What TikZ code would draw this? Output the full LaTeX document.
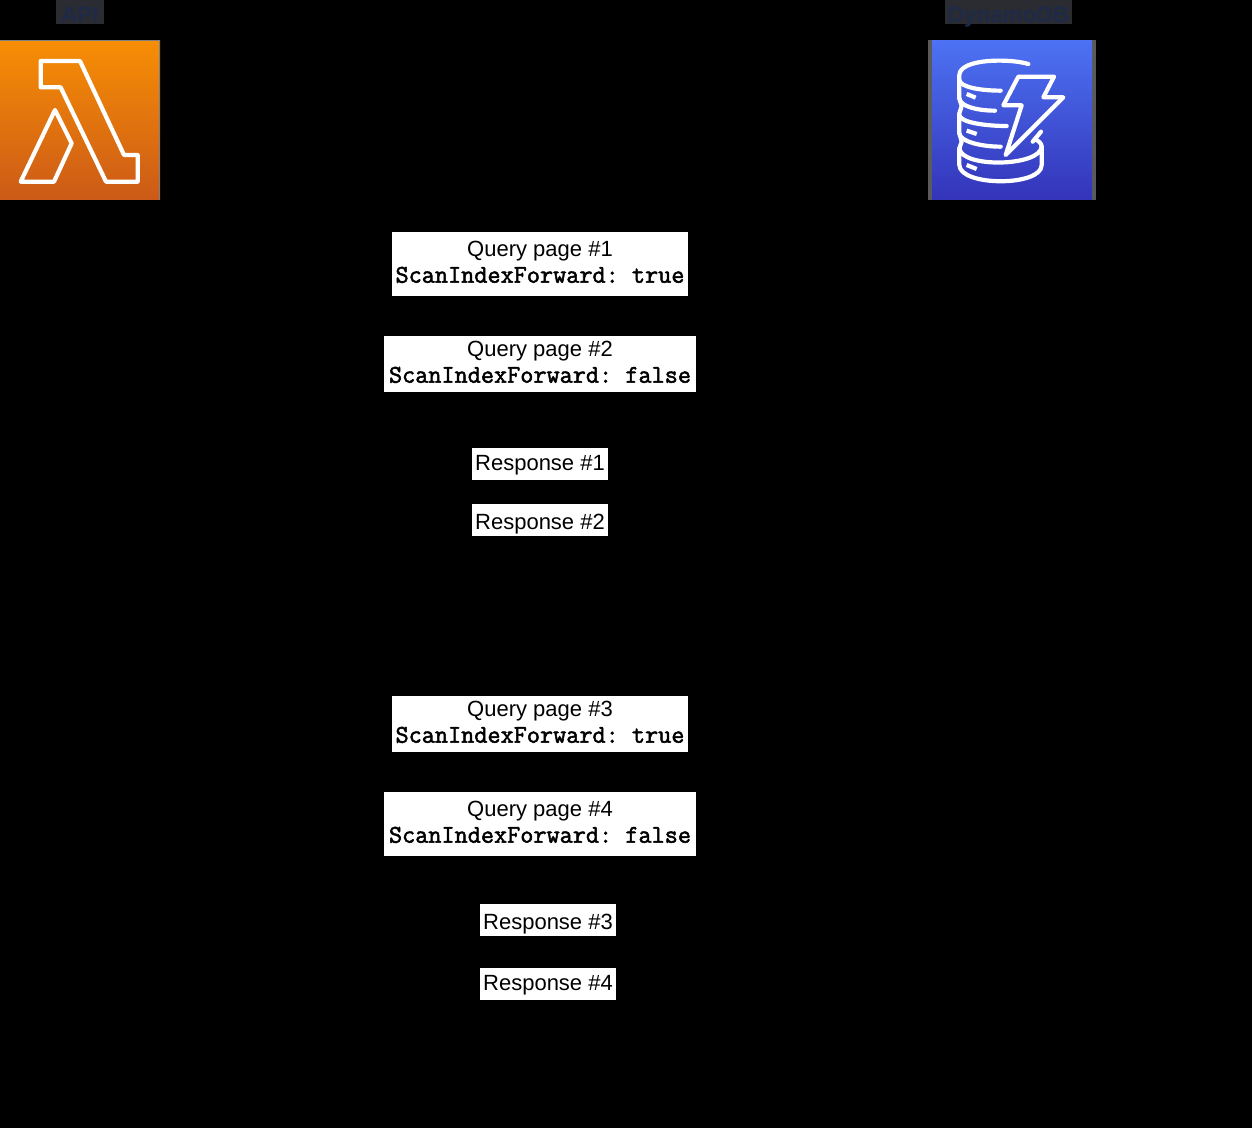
\documentclass[tikz,border=0pt]{standalone}
\usepackage{fontspec}
\setmainfont{Liberation Sans}
\newfontfamily\siffont[FakeBold=2]{Latin Modern Mono}
\definecolor{headfill}{HTML}{2A2C31}
\definecolor{headtext}{HTML}{1E2A48}
\definecolor{edgegray}{HTML}{5A5A5A}
\definecolor{lambdatop}{HTML}{F78E04}
\definecolor{lambdabot}{HTML}{CC5A18}
\definecolor{dynamotop}{HTML}{4D72F3}
\definecolor{dynamobot}{HTML}{3334B9}
\newcommand{\sif}[1]{{\fontsize{25.5}{26}\siffont ScanIndexForward:~#1}}
\begin{document}
\begin{tikzpicture}[x=1pt,y=-1pt]
                        \tikzstyle{msgbox}=[fill=white,text=black,inner sep=0pt,align=center,font=\fontsize{22}{26}\selectfont]
                        \tikzstyle{head}=[fill=headfill,text=headtext,inner sep=0pt,text height=22pt,text depth=2pt,font=\fontsize{22.5}{24}\selectfont\bfseries]
                        \tikzstyle{icon}=[inner sep=0pt,minimum width=160pt,minimum height=159.4pt]
                        \tikzstyle{glyph}=[draw=white,line width=4.2pt,line join=round,line cap=round]
                        \useasboundingbox (0,0) rectangle (1252,1128);
                        \fill[black] (0,0) rectangle (1252,1128);
                        \node[head,minimum width=48pt] (apihead) at (80,12) {API};
                        \node[head,minimum width=127pt] (dynamohead) at (1008.5,12) {DynamoDB};
                        \node[icon,top color=lambdatop,bottom color=lambdabot] (lambda) at (80,119.9) {};
                        \draw[gray,line width=0.8pt] ([yshift=-0.4pt]lambda.north west) -- ([shift={(-0.4pt,-0.4pt)}]lambda.north east) -- ([xshift=-0.4pt]lambda.south east);
                        \fill[edgegray] (928,40) rectangle (1096,200);
                        \node[icon,minimum height=158.8pt,top color=dynamotop,bottom color=dynamobot] (dynamo) at (1012,120.2) {};
                        \begin{scope}[x=0.33333pt,y=-0.33333pt]
                            \draw[glyph] (122,183) -- (240,183) -- (372,465) -- (413,465) -- (413,545) -- (318,545) -- (182,262) -- (122,262) -- cycle;
                            \draw[glyph] (165,330) -- (215,430) -- (162,545) -- (62,545) -- cycle;
                        \end{scope}
                        \begin{scope}[shift={(910,0)},x=0.33333pt,y=-0.33333pt]
                            \draw[glyph] (325,230) -- (432,230) -- (400,292) -- (460,292) -- (287,465) -- (335,316) -- (280,316) -- cycle;
                            \draw[glyph] (355,192) .. controls (300,175) and (150,175) .. (148,225) -- (148,240) .. controls (150,262) and (215,272) .. (272,272);
                            \draw[glyph] (148,240) -- (148,295) .. controls (150,320) and (205,332) .. (255,332);
                            \draw[glyph] (148,295) -- (155,318) -- (148,340) -- (148,345) .. controls (150,368) and (230,378) .. (290,378);
                            \draw[glyph] (148,345) -- (148,400) .. controls (150,425) and (215,440) .. (272,440);
                            \draw[glyph] (148,400) -- (155,425) -- (148,445) -- (148,495) .. controls (150,560) and (395,560) .. (395,495) -- (395,440) .. controls (395,430) and (385,422) .. (375,418);
                            \draw[glyph] (148,445) .. controls (155,505) and (390,500) .. (395,440);
                            \draw[glyph] (393,395) -- (368,425);
                            \draw[glyph,line cap=butt] (170,282) -- (197,293);
                            \draw[glyph,line cap=butt] (170,392) -- (200,402);
                            \draw[glyph,line cap=butt] (170,495) -- (200,507);
                        \end{scope}
                        \node[msgbox,minimum width=296pt,text height=50.7pt,text depth=13.3pt] (query1) at (540,264) {Query page \#1\\\sif{true}};
                        \node[msgbox,minimum width=312pt,text height=46.7pt,text depth=9.3pt] (query2) at (540,364) {Query page \#2\\\sif{false}};
                        \node[msgbox,minimum width=136pt,text height=22pt,text depth=10pt] (resp1) at (540,464) {Response \#1};
                        \node[msgbox,minimum width=136pt,text height=25pt,text depth=7pt] (resp2) at (540,520) {Response \#2};
                        \node[msgbox,minimum width=296pt,text height=46.7pt,text depth=9.3pt] (query3) at (540,724) {Query page \#3\\\sif{true}};
                        \node[msgbox,minimum width=312pt,text height=50.7pt,text depth=13.3pt] (query4) at (540,824) {Query page \#4\\\sif{false}};
                        \node[msgbox,minimum width=136pt,text height=25pt,text depth=7pt] (resp3) at (548,920) {Response \#3};
                        \node[msgbox,minimum width=136pt,text height=22pt,text depth=10pt] (resp4) at (548,984) {Response \#4};
\end{tikzpicture}
\end{document}
